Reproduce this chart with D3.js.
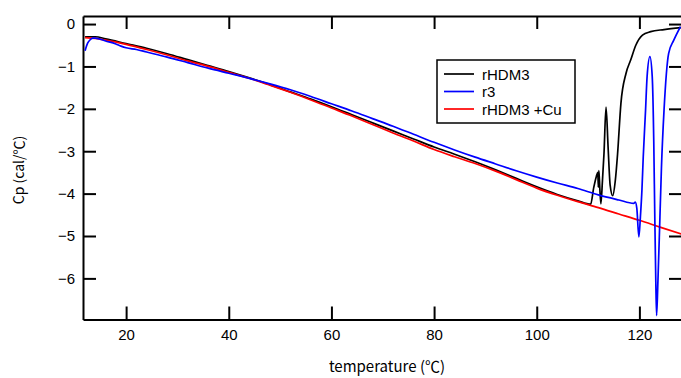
<!DOCTYPE html>
<html><head><meta charset="utf-8">
<script src="https://cdn.jsdelivr.net/npm/d3@7"></script>
<style>
html,body{margin:0;padding:0;background:#fff;}
svg{display:block;}
</style></head>
<body>
<svg id="chart" width="681" height="378"></svg>
<script>
// ---- data ----
const seriesNames = ["rHDM3", "r3", "rHDM3 +Cu"];
const seriesColors = ["#000000", "#0000ff", "#ff0000"];

const blackT = [12,14,16,20,24,28,32,36,40,44,48,52,56,60,64,68,72,76,80,84,88,92,96,100,104,108,110.5,111.1,111.6,111.9,112.0,112.1,112.3,112.5,112.8,113.1,113.5,113.9,114.3,114.8,115.3,115.75,116.4,117.4,118.3,119.3,120.6,122.2,124.8,128.3];
const blackV = [-0.30,-0.30,-0.35,-0.46,-0.57,-0.70,-0.84,-0.98,-1.12,-1.27,-1.43,-1.60,-1.77,-1.95,-2.14,-2.33,-2.52,-2.71,-2.90,-3.07,-3.25,-3.44,-3.64,-3.84,-4.02,-4.17,-4.25,-3.86,-3.60,-3.50,-3.85,-3.46,-3.90,-4.24,-3.70,-3.06,-1.96,-2.90,-3.80,-4.05,-3.70,-3.06,-1.87,-1.16,-0.85,-0.50,-0.26,-0.18,-0.13,-0.08];

const blueT = [12,12.5,13,13.5,14,16,18,19,20,22,24,28,32,36,40,44,48,52,56,60,64,68,72,76,80,84,88,92,96,100,104,108,112,116,118.9,119.2,119.5,119.9,120.2,120.5,120.75,121.2,121.5,122.05,122.5,122.8,123.0,123.2,123.35,123.6,124.0,124.3,124.8,125.7,126.7,128.0];
const blueV = [-0.63,-0.45,-0.37,-0.33,-0.33,-0.40,-0.47,-0.52,-0.56,-0.60,-0.66,-0.78,-0.91,-1.04,-1.16,-1.28,-1.41,-1.55,-1.71,-1.88,-2.05,-2.23,-2.41,-2.60,-2.79,-2.97,-3.14,-3.30,-3.46,-3.61,-3.75,-3.88,-4.03,-4.15,-4.23,-4.20,-4.35,-5.02,-4.54,-3.90,-3.13,-2.03,-1.24,-0.77,-1.24,-2.77,-4.55,-6.10,-6.88,-6.10,-4.55,-3.37,-2.03,-0.69,-0.38,-0.06];

const redT = [12,14,16,20,24,28,32,36,40,44,48,52,56,60,64,68,72,76,80,84,88,92,96,100,104,108,112,116,120,124,128.3];
const redV = [-0.32,-0.34,-0.38,-0.48,-0.60,-0.73,-0.87,-1.00,-1.14,-1.28,-1.44,-1.61,-1.79,-1.98,-2.17,-2.37,-2.57,-2.76,-2.96,-3.13,-3.29,-3.47,-3.67,-3.87,-4.04,-4.19,-4.33,-4.48,-4.63,-4.79,-4.96];

const xTicks = [20,40,60,80,100,120];
const yTicks = [0,-1,-2,-3,-4,-5,-6];
const xTitle = "temperature (℃)";
const yTitle = "Cp (cal/℃)";

// ---- layout ----
const L = 83, R = 682, T = 16, B = 319.5;
const svg = d3.select("#chart");
const x = d3.scaleLinear().domain([11.6, 128.3]).range([L, R]);
const y = d3.scaleLinear().domain([-6.97, 0.19]).range([B, T]);

const tickFont = "'Liberation Sans', Arial, sans-serif";
const fmt = d => d < 0 ? "\u2212" + Math.abs(d) : String(d);

// axes (ticks inward)
const gB = svg.append("g").attr("transform", `translate(0,${B})`)
  .call(d3.axisBottom(x).tickValues(xTicks).tickSizeInner(-13).tickSizeOuter(0).tickPadding(10).tickFormat(fmt));
const gT = svg.append("g").attr("transform", `translate(0,${T})`)
  .call(d3.axisTop(x).tickValues(xTicks).tickSizeInner(-13).tickSizeOuter(0).tickFormat(""));
const gL = svg.append("g").attr("transform", `translate(${L},0)`)
  .call(d3.axisLeft(y).tickValues(yTicks).tickSizeInner(-13).tickSizeOuter(0).tickPadding(8).tickFormat(fmt));
const gR = svg.append("g").attr("transform", `translate(${R},0)`)
  .call(d3.axisRight(y).tickValues(yTicks).tickSizeInner(-13).tickSizeOuter(0).tickFormat(""));
[gB, gT, gL, gR].forEach(g => {
  g.select(".domain").attr("stroke", "#000").attr("stroke-width", 2);
  g.selectAll(".tick line").attr("stroke", "#000").attr("stroke-width", 2);
  g.selectAll("text").attr("fill", "#000").style("font-family", tickFont).style("font-size", "15px");
});

// lines
const line = d3.line().x(d => x(d[0])).y(d => y(d[1])).curve(d3.curveMonotoneX);
const zip = (a, b) => a.map((t, i) => [t, b[i]]);
const data = [zip(blackT, blackV), zip(redT, redV), zip(blueT, blueV)];
const colors = [seriesColors[0], seriesColors[2], seriesColors[1]];
const plot = svg.append("g");
data.forEach((d, i) => {
  plot.append("path").datum(d).attr("d", line)
    .attr("fill", "none").attr("stroke", colors[i]).attr("stroke-width", 1.7)
    .attr("stroke-linejoin", "round");
});

// legend
const lg = svg.append("g");
lg.append("rect").attr("x", 437).attr("y", 60).attr("width", 138).attr("height", 63)
  .attr("fill", "#fff").attr("stroke", "#000").attr("stroke-width", 1.5);
seriesNames.forEach((n, i) => {
  const yy = 74 + i * 17.5;
  lg.append("line").attr("x1", 444).attr("x2", 474).attr("y1", yy).attr("y2", yy)
    .attr("stroke", seriesColors[i]).attr("stroke-width", 1.7);
  lg.append("text").attr("x", 482).attr("y", yy + 5.5).text(n)
    .style("font-family", tickFont).style("font-size", "15px").attr("fill", "#000");
});

// titles
svg.append("text").attr("x", 387).attr("y", 372).attr("text-anchor", "middle")
  .style("font-family", "'Noto Sans CJK JP', sans-serif").style("font-size", "15px").text(xTitle);
svg.append("text").attr("transform", "translate(24,170) rotate(-90)").attr("text-anchor", "middle")
  .style("font-family", "'Noto Sans CJK JP', sans-serif").style("font-size", "14px").text(yTitle);
</script>
</body></html>
